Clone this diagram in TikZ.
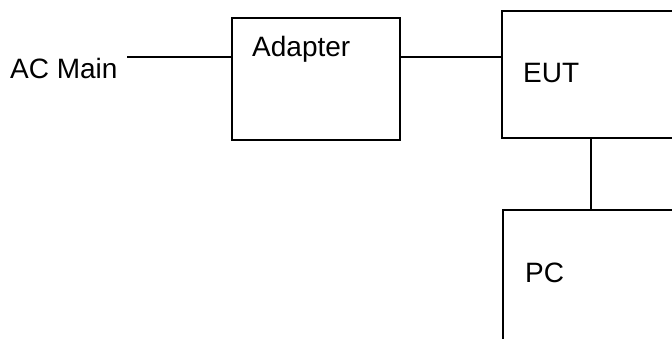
\documentclass[tikz,border=0pt]{standalone}
\usepackage{fontspec}
\setmainfont{Liberation Sans}
\usetikzlibrary{positioning,calc}

\begin{document}
\begin{tikzpicture}[
  x=1pt,y=-1pt,
  blk/.style={draw,line width=1.8pt,inner sep=0pt},
  txt/.style={inner sep=0pt,anchor=base west,font=\fontsize{28}{32}\selectfont},
  wire/.style={line width=1.4pt}
]
\useasboundingbox (0,0) rectangle (672,338);
\clip (0,0) rectangle (672,338);
\node[blk,minimum width=168pt,minimum height=122pt] (adapter) at (316,79) {};
\node[blk,minimum width=200pt,minimum height=127pt] (eut) at (602,74.5) {};
\node[blk,minimum width=200pt,minimum height=170pt] (pc) at (603,295) {};

\node[txt] (acmain) at (10,78) {AC Main};
\node[txt] (adtxt) at (252,56) {Adapter};
\node[txt] (euttxt) at (523,82) {EUT};
\node[txt] (pctxt) at (525,282) {PC};

\coordinate (acend) at (127,57);
\coordinate (tap) at (591,0);

\draw[wire] (acend) -- (adapter.west |- acend);
\draw[wire] (adapter.east |- acend) -- (eut.west |- acend);
\draw[wire] (eut.south -| tap) -- (pc.north -| tap);
\end{tikzpicture}
\end{document}
